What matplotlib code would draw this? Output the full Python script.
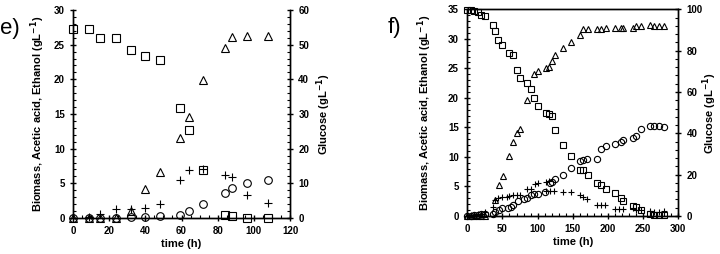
import matplotlib
matplotlib.use("Agg")
import matplotlib.pyplot as plt
from matplotlib.ticker import MultipleLocator

plt.rcParams['font.family'] = ['Liberation Sans', 'DejaVu Sans']

# ---- panel e) ----
e_t = [0, 9, 15, 24, 32, 40, 48, 59, 64, 72, 84, 88, 96, 108]
e_glucose = [54.6, 54.6, 52.0, 51.8, 48.6, 46.6, 45.6, 31.8, 25.4, 13.8, 0.8, 0.6, 0.0, 0.0]
e_ethanol = [0.0, 0.0, 0.0, 0.0, 1.0, 4.2, 6.6, 11.5, 14.6, 19.9, 24.5, 26.1, 26.3, 26.3]
e_acetic = [0.0, 0.1, 0.6, 1.3, 1.3, 1.4, 2.0, 5.5, 6.9, 7.0, 6.2, 5.9, 3.3, 2.1]
e_biomass = [0.0, 0.05, 0.0, 0.05, 0.1, 0.15, 0.3, 0.4, 1.0, 2.0, 3.6, 4.4, 5.0, 5.5]

# ---- panel f) ----
f_t_glc = [0, 5, 10, 15, 20, 25, 37, 40, 44, 50, 59, 65, 70, 75, 85, 90, 95, 100,
           112, 116, 120, 125, 136, 148, 160, 165, 172, 185, 190, 197, 210, 218,
           222, 235, 240, 247, 260, 265, 272, 280]
f_glucose_l = [34.8, 34.8, 34.7, 34.5, 34.0, 33.9, 32.4, 31.4, 29.8, 29.0, 27.6, 27.2,
               24.8, 23.4, 22.5, 21.5, 19.9, 18.6, 17.4, 17.3, 17.0, 14.5, 12.0, 10.2,
               7.8, 7.8, 7.0, 5.6, 5.2, 4.6, 3.9, 3.0, 2.5, 1.7, 1.5, 1.1, 0.4, 0.1,
               0.1, 0.1]
f_glucose = [v * 100 / 35 for v in f_glucose_l]

f_t_eth = [0, 5, 10, 15, 20, 25, 39, 45, 51, 59, 65, 70, 75, 85, 95, 100, 112, 116,
           120, 125, 136, 148, 160, 165, 172, 185, 190, 197, 210, 218, 222, 235,
           240, 247, 260, 265, 272, 280]
f_ethanol = [0, 0, 0, 0, 0, 0, 2.7, 5.2, 6.8, 10.1, 12.5, 14.0, 14.8, 19.7, 24.0,
             24.5, 25.1, 25.2, 26.2, 27.2, 28.4, 29.5, 30.7, 31.7, 31.7, 31.7, 31.6,
             31.8, 31.8, 31.8, 31.9, 31.9, 32.2, 32.2, 32.3, 32.1, 32.2, 32.2]

f_t_ac = [0, 5, 10, 15, 20, 25, 37, 40, 44, 50, 56, 60, 65, 70, 75, 85, 90, 96, 100,
          112, 116, 112, 118, 124, 136, 148, 160, 165, 170, 185, 190, 196, 210, 216,
          222, 235, 240, 247, 260, 265, 272, 280]
f_acetic = [0, 0.1, 0.2, 0.3, 0.4, 0.6, 1.5, 2.7, 3.0, 3.2, 3.3, 3.4, 3.5, 3.6, 3.6,
            4.5, 4.6, 5.5, 5.6, 5.8, 5.9, 4.2, 4.3, 4.3, 4.0, 4.0, 3.5, 3.3, 2.9, 1.9,
            1.9, 1.9, 1.2, 1.2, 1.2, 1.3, 1.1, 1.1, 0.8, 0.7, 0.7, 0.9]

f_t_bio = [0, 5, 10, 15, 20, 25, 37, 40, 45, 50, 58, 62, 65, 72, 80, 85, 90, 95, 100,
           111, 117, 120, 125, 136, 148, 160, 165, 170, 185, 190, 197, 210, 218, 222,
           235, 240, 247, 260, 265, 272, 280]
f_biomass = [0, 0.05, 0.1, 0.2, 0.3, 0.4, 0.4, 0.7, 1.0, 1.3, 1.4, 1.6, 1.9, 2.5, 2.9,
             3.1, 3.5, 3.7, 3.8, 4.0, 5.6, 5.8, 6.3, 6.9, 8.1, 9.3, 9.5, 9.6, 9.7, 11.4,
             11.8, 12.2, 12.5, 12.9, 13.2, 13.5, 14.8, 15.3, 15.3, 15.2, 15.0]

fig = plt.figure(figsize=(7.2, 2.54), dpi=100)

lab = dict(fontsize=8, fontweight='bold')


def style(ax, ax2):
    for a in (ax, ax2):
        a.tick_params(which='major', direction='inout', length=5, width=1,
                      labelsize=7)
        a.tick_params(which='minor', direction='in', length=2.5, width=0.8)
        for lbl in a.get_xticklabels() + a.get_yticklabels():
            lbl.set_fontweight('bold')
        for s in a.spines.values():
            s.set_linewidth(1)


def draw(ax, ax2, t_g, glc, t_e, eth, t_a, ac, t_b, bio, ms):
    mk = dict(linestyle='none', mfc='none', mec='black', mew=0.8, color='black',
              clip_on=False, zorder=3)
    ax2.plot(t_g, glc, marker='s', ms=ms, **mk)
    ax.plot(t_e, eth, marker='^', ms=ms - 0.5, **mk)
    ax.plot(t_a, ac, marker='+', ms=ms, **mk)
    ax.plot(t_b, bio, marker='o', ms=ms - 0.5, **mk)


# left panel
ax = fig.add_axes([0.1014, 0.1417, 0.3014, 0.8189])
ax2 = ax.twinx()
draw(ax, ax2, e_t, e_glucose, e_t, e_ethanol, e_t, e_acetic, e_t, e_biomass, 6)
ax.set_xlim(0, 120)
ax.set_ylim(0, 30)
ax2.set_ylim(0, 60)
ax.xaxis.set_major_locator(MultipleLocator(20))
ax.xaxis.set_minor_locator(MultipleLocator(5))
ax.yaxis.set_major_locator(MultipleLocator(5))
ax.yaxis.set_minor_locator(MultipleLocator(1))
ax2.yaxis.set_major_locator(MultipleLocator(10))
ax2.yaxis.set_minor_locator(MultipleLocator(2))
for a in (ax, ax2):
    a.spines['top'].set_visible(False)
ax.set_xlabel('time (h)', labelpad=2, **lab)
ax.set_ylabel('Biomass, Acetic acid, Ethanol (gL$^{\\mathbf{-1}}$)', labelpad=5, **lab)
ax2.set_ylabel('Glucose (gL$^{\\mathbf{-1}}$)', labelpad=4, **lab)
style(ax, ax2)
fig.text(0.0, 0.865, 'e)', fontsize=16)

# right panel
bx = fig.add_axes([0.649, 0.1496, 0.293, 0.8138])
bx2 = bx.twinx()
draw(bx, bx2, f_t_glc, f_glucose, f_t_eth, f_ethanol, f_t_ac, f_acetic,
     f_t_bio, f_biomass, 5)
bx.set_xlim(0, 300)
bx.set_ylim(0, 35)
bx2.set_ylim(0, 100)
bx.xaxis.set_major_locator(MultipleLocator(50))
bx.xaxis.set_minor_locator(MultipleLocator(10))
bx.yaxis.set_major_locator(MultipleLocator(5))
bx.yaxis.set_minor_locator(MultipleLocator(1))
bx2.yaxis.set_major_locator(MultipleLocator(20))
bx2.yaxis.set_minor_locator(MultipleLocator(4))
bx.set_xlabel('time (h)', labelpad=2, **lab)
bx.set_ylabel('Biomass, Acetic acid, Ethanol (gL$^{\\mathbf{-1}}$)', labelpad=10, **lab)
bx2.set_ylabel('Glucose (gL$^{\\mathbf{-1}}$)', labelpad=-1.5, **lab)
style(bx, bx2)
fig.text(0.538, 0.87, 'f)', fontsize=16)

fig.savefig('out.png', dpi=100)
